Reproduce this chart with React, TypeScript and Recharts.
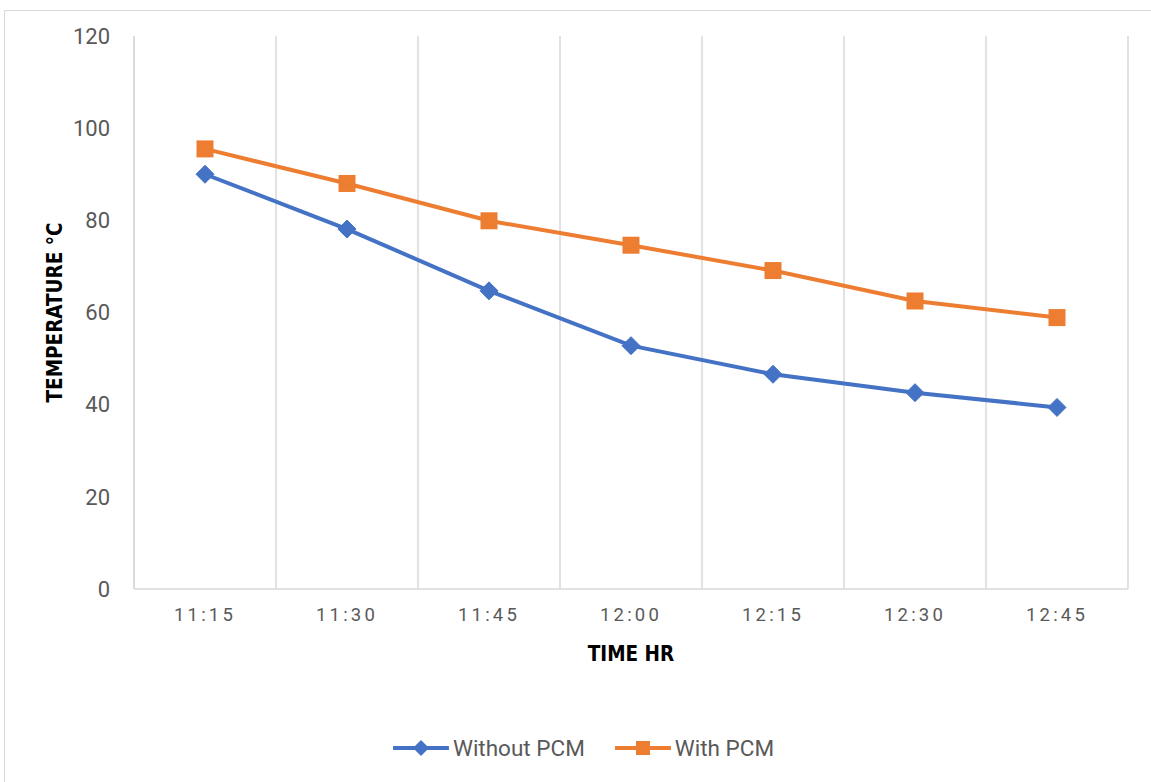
import React from "react";
import { LineChart, Line, XAxis, YAxis, CartesianGrid, Legend } from "recharts";

const timeLabels = ["11:15", "11:30", "11:45", "12:00", "12:15", "12:30", "12:45"];
const withoutPCM = [90, 78.1, 64.7, 52.8, 46.6, 42.6, 39.4];
const withPCM = [95.5, 88, 79.9, 74.6, 69.1, 62.5, 58.9];
const yTicks = [0, 20, 40, 60, 80, 100, 120];

const BLUE = "#4472C4";
const ORANGE = "#ED7D31";
const GRID = "#d9d9d9";
const TEXT = "#595959";

const data = timeLabels.map((t, i) => ({
  idx: i + 1,
  time: t,
  without: withoutPCM[i],
  with: withPCM[i],
}));
const xTicks = data.map((d) => d.idx);
const boundaries = [0, ...xTicks].map((v) => v + 0.5);

const Diamond = (props: any) => {
  const { cx, cy } = props;
  if (cx == null || cy == null) return null;
  const r = 9;
  return (
    <polygon
      points={`${cx},${cy - r} ${cx + r},${cy} ${cx},${cy + r} ${cx - r},${cy}`}
      fill={BLUE}
      stroke={BLUE}
      strokeWidth={1}
    />
  );
};

const Square = (props: any) => {
  const { cx, cy } = props;
  if (cx == null || cy == null) return null;
  const s = 17;
  return <rect x={cx - s / 2} y={cy - s / 2} width={s} height={s} fill={ORANGE} />;
};

const titleFont = "'DejaVu Sans Condensed', 'DejaVu Sans', sans-serif";

const YTitle = (props: any) => {
  const vb = props.viewBox || {};
  const x = vb.x - 19;
  const y = vb.y + vb.height / 2;
  return (
    <text
      x={x}
      y={y}
      transform={`rotate(-90, ${x}, ${y})`}
      textAnchor="middle"
      dominantBaseline="central"
      fontFamily={titleFont}
      fontWeight="bold"
      fontSize={20.5}
      fill="#000"
    >
      TEMPERATURE °C
    </text>
  );
};

const XTitle = (props: any) => {
  const vb = props.viewBox || {};
  const x = vb.x + vb.width / 2;
  const y = vb.y + 72;
  return (
    <text
      x={x}
      y={y}
      textAnchor="middle"
      fontFamily={titleFont}
      fontWeight="bold"
      fontSize={20.5}
      fill="#000"
    >
      TIME HR
    </text>
  );
};

const LegendContent = () => (
  <div
    style={{
      display: "flex",
      justifyContent: "center",
      alignItems: "center",
      height: 30,
      paddingLeft: 16,
      boxSizing: "border-box",
      fontFamily: "Roboto, sans-serif",
      fontSize: 22.5,
      color: TEXT,
    }}
  >
    <div style={{ display: "flex", alignItems: "center", marginRight: 30 }}>
      <svg width={56} height={20} style={{ marginRight: 4 }}>
        <line x1={1} y1={10} x2={55} y2={10} stroke={BLUE} strokeWidth={4} strokeLinecap="round" />
        <polygon points="28,2 36,10 28,18 20,10" fill={BLUE} />
      </svg>
      <span>Without PCM</span>
    </div>
    <div style={{ display: "flex", alignItems: "center" }}>
      <svg width={56} height={20} style={{ marginRight: 4 }}>
        <line x1={1} y1={10} x2={55} y2={10} stroke={ORANGE} strokeWidth={4} strokeLinecap="round" />
        <rect x={21} y={3} width={14} height={14} fill={ORANGE} />
      </svg>
      <span>With PCM</span>
    </div>
  </div>
);

export default function App() {
  return (
    <div style={{ position: "absolute", left: 0, top: 0, width: 1151, height: 782, background: "#fff", overflow: "hidden" }}>
      <div
        style={{
          position: "absolute",
          left: 4,
          top: 10,
          width: 1200,
          height: 800,
          borderLeft: `1px solid ${GRID}`,
          borderTop: `1px solid ${GRID}`,
        }}
      />
      <div style={{ position: "absolute", left: 0, top: 0 }}>
        <LineChart
          width={1151}
          height={782}
          data={data}
          margin={{ top: 36, right: 23, left: 74, bottom: 133 }}
        >
          <CartesianGrid
            horizontal={false}
            vertical={true}
            verticalValues={boundaries}
            stroke={GRID}
            strokeWidth={1.5}
          />
          <XAxis
            dataKey="idx"
            type="number"
            domain={[0.5, 7.5]}
            ticks={xTicks}
            tickFormatter={(v: number) => timeLabels[v - 1]}
            tickLine={false}
            tickSize={0}
            tickMargin={19}
            height={30}
            axisLine={{ stroke: GRID, strokeWidth: 1.5 }}
            tick={{ fill: TEXT, fontSize: 18.5, fontFamily: "Roboto, sans-serif", letterSpacing: 3.2 }}
            label={{ content: XTitle }}
            interval={0}
            allowDataOverflow
          />
          <YAxis
            type="number"
            domain={[0, 120]}
            ticks={yTicks}
            width={60}
            tickLine={false}
            tickSize={0}
            tickMargin={24}
            axisLine={{ stroke: GRID, strokeWidth: 1.5 }}
            tick={{ fill: TEXT, fontSize: 22, fontFamily: "Roboto, sans-serif" }}
            label={{ content: YTitle }}
          />
          <Legend
            verticalAlign="bottom"
            height={30}
            content={LegendContent}
            wrapperStyle={{ position: "absolute", top: 733, left: 0, width: 1151, height: 30, bottom: "auto" }}
          />
          <Line
            type="linear"
            dataKey="without"
            name="Without PCM"
            stroke={BLUE}
            strokeWidth={4}
            dot={Diamond}
            activeDot={false}
            isAnimationActive={false}
          />
          <Line
            type="linear"
            dataKey="with"
            name="With PCM"
            stroke={ORANGE}
            strokeWidth={4}
            dot={Square}
            activeDot={false}
            isAnimationActive={false}
          />
        </LineChart>
      </div>
    </div>
  );
}
